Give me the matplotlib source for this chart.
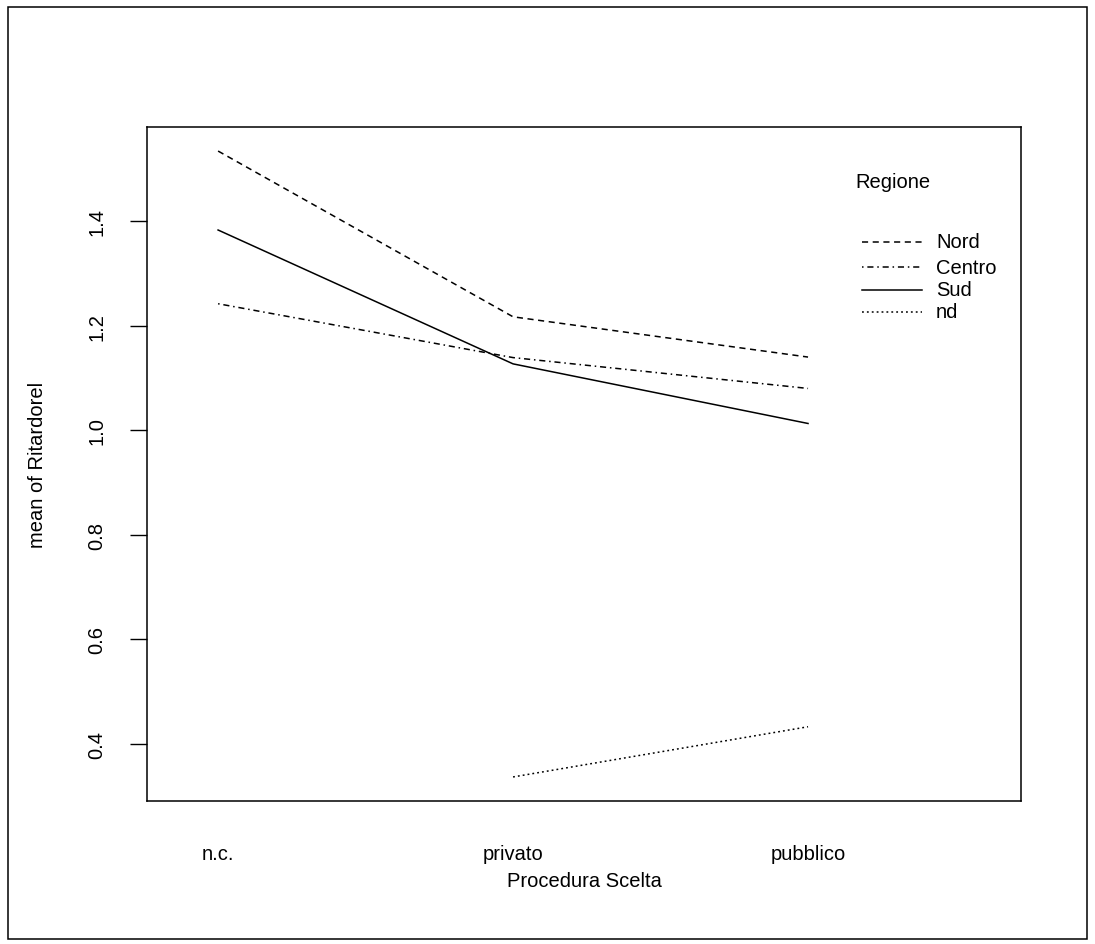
import matplotlib.pyplot as plt
from matplotlib.patches import Rectangle

plt.rcParams['font.family'] = ['Liberation Sans', 'DejaVu Sans']

# mean of Ritardorel by Procedura Scelta, one trace per Regione
procedura = ['n.c.', 'privato', 'pubblico']
nord = [1.534, 1.217, 1.140]
centro = [1.242, 1.139, 1.080]
sud = [1.383, 1.127, 1.013]
nd = [None, 0.337, 0.433]

regioni = ['Nord', 'Centro', 'Sud', 'nd']
stili = [(0, (4, 3)), (0, (1, 2.5, 4, 2.5)), '-', (0, (1.2, 2))]

fig = plt.figure(figsize=(10.95, 9.45), dpi=100)
ax = fig.add_axes([147 / 1095, 1 - 802 / 945, (1021 - 147) / 1095, (802 - 128) / 945])

xs = [1, 2, 3]
for serie, stile in zip([nord, centro, sud, nd], stili):
    punti = [(x, v) for x, v in zip(xs, serie) if v is not None]
    ax.plot([p[0] for p in punti], [p[1] for p in punti], color='black',
            linewidth=1.1, linestyle=stile)

fs = 14.5
ax.set_xlim(0.759, 3.722)
ax.set_ylim(0.291, 1.58)
ax.set_xticks(xs)
ax.set_xticklabels(procedura, fontsize=fs)
ax.tick_params(axis='x', length=0, pad=31)
ax.set_yticks([0.4, 0.6, 0.8, 1.0, 1.2, 1.4])
ax.set_yticklabels(['0.4', '0.6', '0.8', '1.0', '1.2', '1.4'], fontsize=fs,
                   rotation=90, va='center')
ax.tick_params(axis='y', length=12, width=1, pad=17)
for sp in ax.spines.values():
    sp.set_linewidth(1.1)

ax.set_xlabel('Procedura Scelta', fontsize=fs, labelpad=6)
ax.set_ylabel('mean of Ritardorel', fontsize=fs, labelpad=29)

# legend drawn by hand in R style
ax.text((855 - 147) / 874, (802 - 183) / 674, 'Regione', transform=ax.transAxes,
        fontsize=fs, va='center')
leg_y = [243, 268, 291, 313]
for nome, stile, yy in zip(regioni, stili, leg_y):
    yf = (802 - yy) / (802 - 128)
    ax.plot([(862 - 147) / 874, (922 - 147) / 874], [yf, yf], transform=ax.transAxes,
            color='black', linewidth=1.1, linestyle=stile, clip_on=False)
    ax.text((936 - 147) / 874, yf, nome, transform=ax.transAxes, fontsize=fs,
            va='center')

# outer frame round the whole figure
fig.patches.append(Rectangle((8 / 1095, 1 - 940 / 945), 1079 / 1095, 932 / 945,
                             transform=fig.transFigure, fill=False,
                             edgecolor='black', linewidth=1.1))

fig.savefig('out.png', dpi=100)
